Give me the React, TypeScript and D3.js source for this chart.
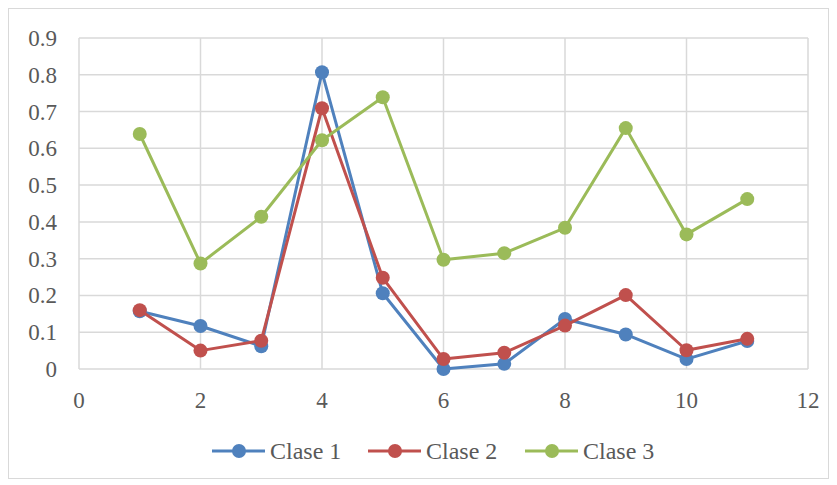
import { useEffect, useRef } from "react";
import * as d3 from "d3";

const width = 837;
const height = 485;

// x positions 1..11
const xValues = [1, 2, 3, 4, 5, 6, 7, 8, 9, 10, 11];
const clase1 = [0.157, 0.117, 0.062, 0.807, 0.206, 0.0, 0.014, 0.136, 0.094, 0.027, 0.076];
const clase2 = [0.16, 0.05, 0.077, 0.709, 0.248, 0.027, 0.044, 0.118, 0.201, 0.051, 0.082];
const clase3 = [0.639, 0.287, 0.414, 0.622, 0.739, 0.297, 0.315, 0.384, 0.655, 0.366, 0.462];

const seriesNames = ["Clase 1", "Clase 2", "Clase 3"];
const seriesColors = ["#4f81bd", "#c0504d", "#9bbb59"];
const xTicks = [0, 2, 4, 6, 8, 10, 12];
const yTicks = [0, 0.1, 0.2, 0.3, 0.4, 0.5, 0.6, 0.7, 0.8, 0.9];

const margin = { top: 38, right: 29, bottom: 116, left: 79 };
const font = "'Liberation Serif', serif";
const textColor = "#595959";

export default function App() {
  const svgRef = useRef<SVGSVGElement | null>(null);

  useEffect(() => {
    const svg = d3.select(svgRef.current);
    svg.selectAll("*").remove();

    const x = d3.scaleLinear().domain([0, 12]).range([margin.left, width - margin.right]);
    const y = d3.scaleLinear().domain([0, 0.9]).range([height - margin.bottom, margin.top]);

    // chart border
    svg.append("rect")
      .attr("x", 8.5).attr("y", 8.5)
      .attr("width", 820).attr("height", 470)
      .attr("fill", "white")
      .attr("stroke", "#d9d9d9")
      .attr("stroke-width", 1);

    const grid = svg.append("g");
    grid.selectAll("line.h")
      .data(yTicks)
      .join("line")
      .attr("x1", x(0)).attr("x2", x(12))
      .attr("y1", (d) => y(d)).attr("y2", (d) => y(d))
      .attr("stroke", "#d9d9d9").attr("stroke-width", 1.5);
    grid.selectAll("line.v")
      .data(xTicks)
      .join("line")
      .attr("class", "v")
      .attr("x1", (d) => x(d)).attr("x2", (d) => x(d))
      .attr("y1", y(0)).attr("y2", y(0.9))
      .attr("stroke", "#d9d9d9").attr("stroke-width", 1.5);

    // y labels
    svg.append("g")
      .selectAll("text")
      .data(yTicks)
      .join("text")
      .attr("x", 57)
      .attr("y", (d) => y(d))
      .attr("dy", "0.35em")
      .attr("text-anchor", "end")
      .style("font-family", font)
      .style("font-size", "23px")
      .attr("fill", textColor)
      .text((d) => (d === 0 ? "0" : d3.format(".1f")(d)));

    // x labels
    svg.append("g")
      .selectAll("text")
      .data(xTicks)
      .join("text")
      .attr("x", (d) => x(d))
      .attr("y", 408)
      .attr("text-anchor", "middle")
      .style("font-family", font)
      .style("font-size", "23px")
      .attr("fill", textColor)
      .text((d) => String(d));

    const allSeries = [clase1, clase2, clase3];
    const line = d3.line<number>()
      .x((_, i) => x(xValues[i]))
      .y((d) => y(d));

    allSeries.forEach((vals, s) => {
      svg.append("path")
        .datum(vals)
        .attr("fill", "none")
        .attr("stroke", seriesColors[s])
        .attr("stroke-width", 3)
        .attr("stroke-linejoin", "round")
        .attr("d", line);
      svg.append("g")
        .selectAll("circle")
        .data(vals)
        .join("circle")
        .attr("cx", (_, i) => x(xValues[i]))
        .attr("cy", (d) => y(d))
        .attr("r", 7)
        .attr("fill", seriesColors[s]);
    });

    // legend
    const legendX = [212, 368, 525];
    const legendY = 451;
    const legend = svg.append("g");
    seriesNames.forEach((name, s) => {
      const lx = legendX[s];
      legend.append("line")
        .attr("x1", lx).attr("x2", lx + 53)
        .attr("y1", legendY).attr("y2", legendY)
        .attr("stroke", seriesColors[s]).attr("stroke-width", 3);
      legend.append("circle")
        .attr("cx", lx + 27).attr("cy", legendY)
        .attr("r", 7).attr("fill", seriesColors[s]);
      legend.append("text")
        .attr("x", lx + 58).attr("y", legendY)
        .attr("dy", "0.35em")
        .style("font-family", font)
        .style("font-size", "24px")
        .attr("fill", textColor)
        .text(name);
    });
  }, []);

  return (
    <div style={{ position: "absolute", left: 0, top: 0 }}>
      <svg ref={svgRef} width={width} height={height} />
    </div>
  );
}
